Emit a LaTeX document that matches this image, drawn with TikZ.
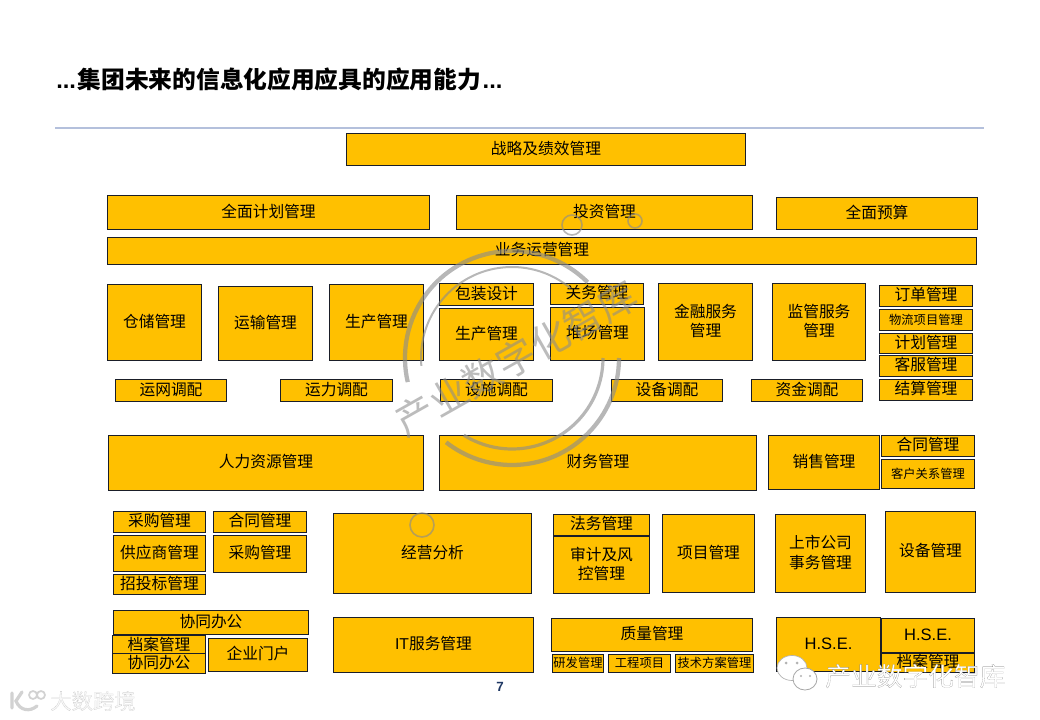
\documentclass[tikz,border=0pt]{standalone}
\usepackage{fontspec}
\setmainfont{Noto Sans CJK SC}
\newfontfamily\latinfont{Liberation Sans}
\newfontfamily\wmfont[FakeBold=0.25]{Noto Sans CJK SC}
\definecolor{boxfill}{HTML}{FFC000}
\definecolor{boxedge}{HTML}{1A1E28}
\definecolor{rulecol}{HTML}{B4C0DC}
\definecolor{pagecol}{HTML}{1F3864}
\definecolor{stampcol}{HTML}{8C8C8C}
\newcommand\fa{\fontsize{11.8}{14.6}\selectfont}
\newcommand\fc{\fontsize{9.2}{10}\selectfont}
\newcommand\bx[7][\fa]{\node[orgbox,font=#1,minimum width={(#5-#3-0.6)*0.75pt},minimum height={(#6-#4-0.6)*0.75pt}] (#2) at ({(#3+#5)/2},{(#4+#6)/2}) {\raisebox{-0.75pt}[\height][\depth]{\begin{tabular}{@{}c@{}}#7\end{tabular}}};}
\tikzset{
  orgbox/.style={draw=boxedge,fill=boxfill,line width=0.75pt,inner sep=0pt,text=black},
  stamparc/.style={draw=stampcol,opacity=0.62,line cap=butt},
}
\begin{document}
\begin{tikzpicture}[x=0.75pt,y=-0.75pt]
\useasboundingbox (0,0) rectangle (1040,720);
\fill[white] (0,0) rectangle (1040,720);
\node[anchor=west,inner sep=0pt,font=\fontsize{17.8}{20}\selectfont\bfseries] (title) at (56,79) {{\latinfont ...}\hspace{1.2pt}集团未来的信息化应用应具的应用能力\hspace{1.2pt}{\latinfont ...}};
\coordinate (ruleL) at (55,128); \coordinate (ruleR) at (984,128);
\draw[rulecol,line width=1.1pt] (ruleL) -- (ruleR);
\bx{zl}{346}{133}{746}{166}{战略及绩效管理}
\bx{qmjh}{107}{195}{430}{230}{全面计划管理}
\bx{tz}{456}{195}{753}{230}{投资管理}
\bx{qmys}{776}{197}{978}{230}{全面预算}
\bx{ywyy}{107}{237}{977}{265}{业务运营管理}
\bx{cc}{107}{284}{202}{361}{仓储管理}
\bx{ys}{218}{286}{313}{361}{运输管理}
\bx{sc}{329}{284}{424}{361}{生产管理}
\bx{bz}{439}{283}{534}{306}{包装设计}
\bx{scb}{439}{308}{534}{361}{生产管理}
\bx{gw}{550}{283}{644}{305}{关务管理}
\bx{dc}{550}{307}{645}{361}{堆场管理}
\bx{jr}{658}{283}{753}{361}{金融服务\\管理}
\bx{jg}{772}{283}{866}{361}{监管服务\\管理}
\bx{dd}{879}{285}{973}{307}{订单管理}
\bx[\fc]{wl}{879}{309}{973}{331}{物流项目管理}
\bx{jh}{879}{333}{973}{354}{计划管理}
\bx{kf}{879}{355}{973}{377}{客服管理}
\bx{js}{879}{379}{973}{401}{结算管理}
\bx{yw}{115}{379}{227}{402}{运网调配}
\bx{yl}{280}{379}{393}{402}{运力调配}
\bx{ss}{440}{379}{553}{402}{设施调配}
\bx{sb}{611}{379}{723}{402}{设备调配}
\bx{zj}{751}{379}{863}{402}{资金调配}
\bx{rl}{108}{435}{424}{491}{人力资源管理}
\bx{cw}{439}{435}{757}{491}{财务管理}
\bx{xs}{768}{435}{880}{490}{销售管理}
\bx{ht}{881}{435}{975}{457}{合同管理}
\bx[\fc]{kh}{881}{459}{975}{489}{客户关系管理}
\bx{cg}{113}{511}{206}{533}{采购管理}
\bx{htb}{213}{511}{307}{533}{合同管理}
\bx{gys}{113}{535}{206}{572}{供应商管理}
\bx{cgb}{213}{535}{307}{573}{采购管理}
\bx{ztb}{113}{574}{206}{595}{招投标管理}
\bx{jy}{333}{513}{532}{594}{经营分析}
\bx{fw}{553}{514}{650}{536}{法务管理}
\bx{sj}{553}{536}{650}{594}{审计及风\\控管理}
\bx{xm}{662}{514}{755}{593}{项目管理}
\bx{ssgs}{775}{514}{866}{593}{上市公司\\事务管理}
\bx{sbgl}{885}{511}{976}{593}{设备管理}
\bx{xt}{113}{610}{309}{635}{协同办公}
\bx{da}{112}{636}{206}{655}{档案管理}
\bx{xtb}{112}{655}{206}{672}{协同办公}
\bx{mh}{208}{638}{308}{672}{企业门户}
\bx{it}{333}{617}{534}{673}{{\latinfont IT}服务管理}
\bx{zl2}{551}{618}{753}{652}{质量管理}
\bx[\fc]{yf}{552}{654}{604}{673}{研发管理}
\bx[\fc]{gc}{608}{654}{671}{673}{工程项目}
\bx[\fc]{fa}{675}{654}{754}{673}{技术方案管理}
\bx[\latinfont\fontsize{12.4}{14}\selectfont]{hse}{776}{617}{881}{672}{H.S.E.}
\bx[\latinfont\fontsize{12.4}{14}\selectfont]{hseb}{881}{618}{975}{653}{H.S.E.}
\bx{dab}{881}{654}{975}{672}{档案管理}
\node[inner sep=0pt,font=\latinfont\bfseries\fontsize{10}{12}\selectfont,text=pagecol] (page) at (500,687) {7};
% stamp
\coordinate (sc) at (512,358);
\draw[stamparc,line width=3.2pt] (sc) ++(-193:107) arc[start angle=-193,end angle=-45,radius=107];
\draw[stamparc,line width=3.2pt] (sc) ++(0:107) arc[start angle=0,end angle=128,radius=107];
\draw[stamparc,line width=1.5pt] (sc) ++(-185:91) arc[start angle=-185,end angle=-50,radius=91];
\draw[stamparc,line width=2.4pt] (sc) ++(0:91) arc[start angle=0,end angle=122,radius=91];
\draw[stamparc,line width=1.2pt] (572,225) circle (10);
\draw[stamparc,line width=1.2pt] (635,221) circle (7);
\draw[stamparc,line width=1.2pt] (422,525) circle (12);
\node[rotate=29.5,opacity=0.58,text=stampcol,inner sep=0pt,font=\fontsize{29}{32}\selectfont] (stamptext) at (516,358) {产业数字化智库};
% wechat mark
\node[inner sep=0pt,anchor=west,font=\wmfont\fontsize{19.3}{22}\selectfont] (wm) at (825,676) {\special{pdf:bcolor [1] [0.45]}产业数字化智库\special{pdf:ecolor}};
\fill[white,draw=gray!60,line width=0.5pt] (792,668) ellipse (15 and 12.5);
\fill[white,draw=gray!70,line width=0.6pt] (805,679) ellipse (12 and 11);
\fill[gray!60] (786,663) circle (1.5) (797,663) circle (1.5) (801,676) circle (1.2) (810,676) circle (1.2);
% second mark
\node[inner sep=0pt,anchor=west,font=\wmfont\fontsize{16}{18}\selectfont] (wm2) at (50,701) {\special{pdf:bcolor [0.97] [0.72]}大数跨境\special{pdf:ecolor}};
\draw[gray!35,line width=2.4pt,line cap=round] (12,693) -- (12,708) (22,692) -- (16,701) .. controls (20,711) and (30,712) .. (37,706);
\draw[gray!35,line width=1.3pt] (33,695) circle (4) (41,695) circle (4);
\end{tikzpicture}
\end{document}
